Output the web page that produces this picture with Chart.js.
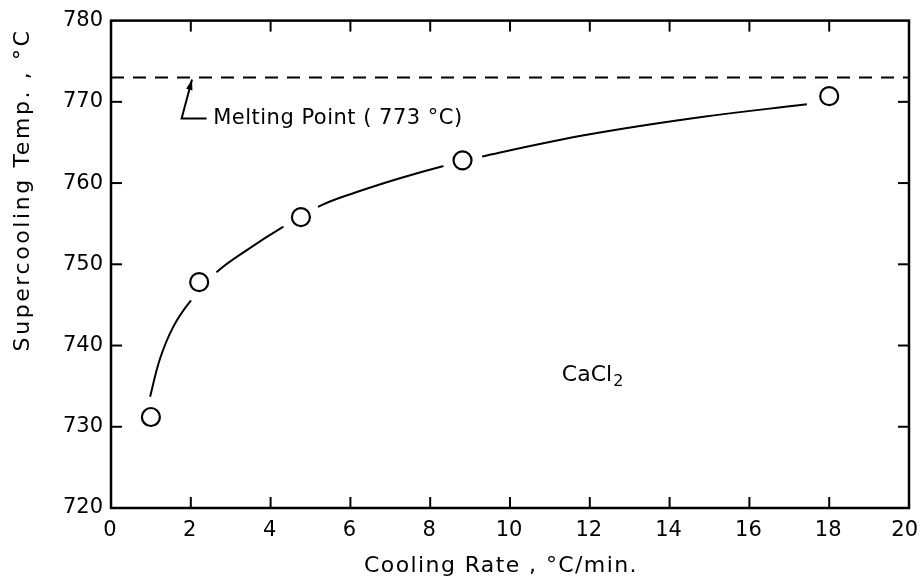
<!DOCTYPE html>
<html><head><meta charset="utf-8">
<script src="https://cdn.jsdelivr.net/npm/chart.js@4.4.1/dist/chart.umd.min.js"></script>
<style>html,body{margin:0;padding:0;background:#fff;}#wrap{width:921px;height:583px;}</style>
</head><body><div id="wrap"><canvas id="c" width="921" height="583"></canvas></div>
<script>
// measured points
const coolingRate = [1.0, 2.21, 4.76, 8.81, 18.0];
const supercoolTemp = [731.2, 747.8, 755.8, 762.8, 770.7];
// hand-drawn fitted curve
const curveX = [0.98, 1.23, 1.56, 1.98, 2.65, 3.48, 4.24, 5.24, 6.16, 7.24, 8.29, 9.42, 12.0, 14.76, 17.44];
const curveY = [733.7, 738.4, 742.3, 745.4, 749.05, 752.0, 754.4, 757.2, 758.9, 760.6, 762.05, 763.4, 766.0, 768.1, 769.7];
const meltingPoint = 773;
const xTicks = [0, 2, 4, 6, 8, 10, 12, 14, 16, 18, 20];
const yTicks = [720, 730, 740, 750, 760, 770, 780];
const xTitle = 'Cooling Rate , \u00B0C/min.';
const yTitle = 'Supercooling Temp. , \u00B0C';
const meltLabel = 'Melting Point ( 773 \u00B0C)';
const compoundLabel = 'CaCl';

const FONT = 'DejaVu Sans';
const pts = coolingRate.map((x, i) => ({x, y: supercoolTemp[i]}));
const curve = curveX.map((x, i) => ({x, y: curveY[i]}));

const decor = {
  id: 'decor',
  afterDraw(chart) {
    const ctx = chart.ctx, xs = chart.scales.x, ys = chart.scales.y, a = chart.chartArea;
    ctx.save();
    ctx.strokeStyle = '#000'; ctx.lineWidth = 2.5; ctx.lineCap = 'square';
    ctx.strokeRect(a.left, a.top, a.right - a.left, a.bottom - a.top);
    ctx.lineWidth = 2; ctx.lineCap = 'butt';
    const tl = 11;
    xTicks.slice(1, -1).forEach(v => {
      const px = xs.getPixelForValue(v);
      ctx.beginPath(); ctx.moveTo(px, a.bottom); ctx.lineTo(px, a.bottom - tl); ctx.stroke();
      ctx.beginPath(); ctx.moveTo(px, a.top); ctx.lineTo(px, a.top + tl); ctx.stroke();
    });
    yTicks.slice(1, -1).forEach(v => {
      const py = ys.getPixelForValue(v);
      ctx.beginPath(); ctx.moveTo(a.left, py); ctx.lineTo(a.left + tl, py); ctx.stroke();
      ctx.beginPath(); ctx.moveTo(a.right, py); ctx.lineTo(a.right - tl, py); ctx.stroke();
    });
    ctx.fillStyle = '#000';
    // x tick labels
    ctx.font = '21px "' + FONT + '"'; ctx.textBaseline = 'middle'; ctx.textAlign = 'center';
    xTicks.forEach(v => {
      const s = String(v), hw = ctx.measureText(s).width / 2;
      const px = Math.min(xs.getPixelForValue(v) - 1, chart.width - hw - 3);
      ctx.fillText(s, px, a.bottom + 23);
    });
    // arrow annotation
    const tx = xs.getPixelForValue(1.77), ty = ys.getPixelForValue(767.95);
    const hx = xs.getPixelForValue(2.03), hy = ys.getPixelForValue(772.75);
    ctx.lineWidth = 2;
    ctx.beginPath(); ctx.moveTo(tx + 25, ty); ctx.lineTo(tx, ty); ctx.lineTo(hx, hy); ctx.stroke();
    const ang = Math.atan2(hy - ty, hx - tx);
    ctx.beginPath();
    ctx.moveTo(hx, hy);
    ctx.lineTo(hx - 11 * Math.cos(ang - 0.3), hy - 11 * Math.sin(ang - 0.3));
    ctx.lineTo(hx - 11 * Math.cos(ang + 0.3), hy - 11 * Math.sin(ang + 0.3));
    ctx.closePath(); ctx.fill();
    ctx.font = '21px "' + FONT + '"'; ctx.textAlign = 'left';
    ctx.letterSpacing = '0.5px';
    ctx.fillText(meltLabel, xs.getPixelForValue(2.56), ys.getPixelForValue(768));
    // compound label
    ctx.font = '22px "' + FONT + '"';
    ctx.letterSpacing = '0px';
    const cx = xs.getPixelForValue(11.3), cy = ys.getPixelForValue(736.3);
    ctx.fillText(compoundLabel, cx, cy);
    const w = ctx.measureText(compoundLabel).width;
    ctx.font = '16px "' + FONT + '"';
    ctx.fillText('2', cx + w + 1, cy + 6);
    // axis titles
    ctx.font = '22px "' + FONT + '"'; ctx.textAlign = 'center';
    ctx.letterSpacing = '1.4px';
    ctx.fillText(xTitle, 501, 566);
    ctx.letterSpacing = '2.6px';
    ctx.translate(23, 190); ctx.rotate(-Math.PI / 2);
    ctx.fillText(yTitle, 0, 0);
    ctx.restore();
  }
};

new Chart(document.getElementById('c'), {
  type: 'scatter',
  data: {
    datasets: [
      { data: curve, showLine: true, borderColor: '#000', borderWidth: 2, pointRadius: 0,
        tension: 0.4, order: 3 },
      { data: pts, showLine: false, pointRadius: 20, pointBackgroundColor: '#fff',
        pointBorderWidth: 0, pointBorderColor: '#fff', order: 2 },
      { data: pts, showLine: false, pointRadius: 9, pointBackgroundColor: '#fff',
        pointBorderColor: '#000', pointBorderWidth: 2.2, order: 1 },
      { data: [{x: 0, y: meltingPoint}, {x: 20, y: meltingPoint}], showLine: true,
        borderColor: '#000', borderWidth: 2, borderDash: [13, 9], pointRadius: 0, order: 0 }
    ]
  },
  options: {
    responsive: false, animation: false, devicePixelRatio: 1,
    layout: { autoPadding: false, padding: { left: 0, top: 20, right: 12, bottom: 0 } },
    plugins: { legend: { display: false }, tooltip: { enabled: false } },
    scales: {
      x: {
        type: 'linear', min: 0, max: 20,
        afterBuildTicks: s => { s.ticks = xTicks.map(v => ({value: v})); },
        afterFit: s => { s.height = 75; },
        grid: { display: false, drawTicks: false },
        border: { display: false },
        ticks: { display: false }
      },
      y: {
        type: 'linear', min: 720, max: 780,
        afterBuildTicks: s => { s.ticks = yTicks.map(v => ({value: v})); },
        afterFit: s => { s.width = 111; },
        grid: { display: false, drawTicks: false },
        border: { display: false },
        ticks: { color: '#000', font: { family: FONT, size: 21 }, padding: 8 }
      }
    }
  },
  plugins: [decor]
});
</script></body></html>
